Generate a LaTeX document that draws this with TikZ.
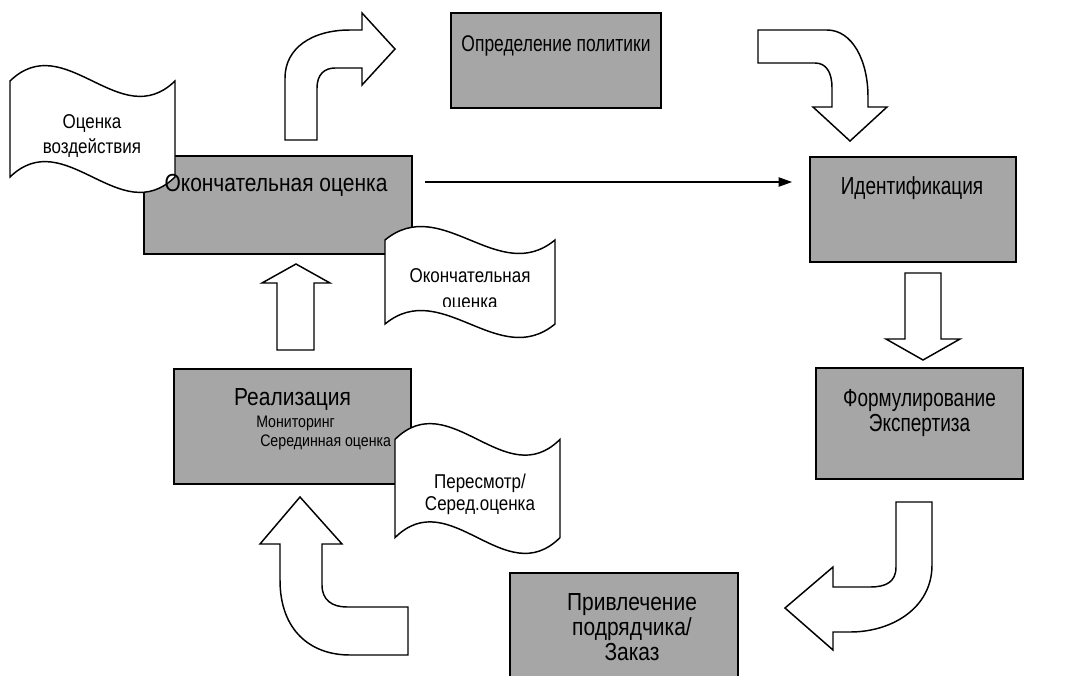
\documentclass[tikz,border=0pt]{standalone}
\usepackage{fontspec}
\setmainfont{Liberation Sans}
\newfontfamily\narrowsans[FakeStretch=0.85]{Liberation Sans}
\newfontfamily\narrowersans[FakeStretch=0.77]{Liberation Sans}
\usetikzlibrary{arrows.meta}
\definecolor{boxgray}{RGB}{166,166,166}
\tikzset{
  procbox/.style={draw=black, line width=1.1pt, fill=boxgray, inner sep=0pt},
  blockarrow/.style={draw=black, line width=1.1pt, fill=white, line join=miter},
  wavedoc/.style={draw=black, line width=1.1pt, fill=white},
  maintext/.style={font=\narrowsans\fontsize{18.5}{22}\selectfont, anchor=base, inner sep=0pt},
  righttext/.style={font=\narrowersans\fontsize{18.5}{22}\selectfont, anchor=base, inner sep=0pt},
  doctext/.style={font=\narrowsans\fontsize{15}{18}\selectfont, anchor=base, inner sep=0pt},
  smalltext/.style={font=\narrowsans\fontsize{12.5}{15}\selectfont, anchor=base west, inner sep=0pt},
  thinarrow/.style={line width=0.8pt, -{Triangle[length=10pt,width=7pt]}}
}
\newcommand\wavedocshape[4]{%
  \pgfmathsetmacro\wxa{#1}\pgfmathsetmacro\wxb{#1+#3/3}%
  \pgfmathsetmacro\wxc{#1+2*#3/3}\pgfmathsetmacro\wxd{#1+#3}%
  \pgfmathsetmacro\wya{#2+0.125*#4}\pgfmathsetmacro\wdy{0.125*#4*10/3}%
  \pgfmathsetmacro\wyb{#2+#4-0.125*#4}%
  \draw[wavedoc] (\wxa,\wya) .. controls (\wxb,\wya-\wdy) and (\wxc,\wya+\wdy) .. (\wxd,\wya)
    -- (\wxd,\wyb) .. controls (\wxc,\wyb+\wdy) and (\wxb,\wyb-\wdy) .. (\wxa,\wyb) -- cycle;
}
\begin{document}
\begin{tikzpicture}[x=0.75pt,y=-0.75pt]
\useasboundingbox (0,0) rectangle (1077,675);
% boxes
\node[procbox, minimum width=201pt, minimum height=73.5pt] (final) at (278,205) {};
\node[procbox, minimum width=157.5pt, minimum height=71.25pt] (policy) at (556,60.5) {};
\node[procbox, minimum width=154.5pt, minimum height=78.75pt] (ident) at (913,209.5) {};
\node[procbox, minimum width=155.25pt, minimum height=83.25pt] (form) at (919.5,423.5) {};
\node[procbox, minimum width=171pt, minimum height=87.75pt] (contr) at (624,631.5) {};
\node[procbox, minimum width=177.75pt, minimum height=86.25pt] (impl) at (292.5,426.5) {};
% block arrows
\draw[blockarrow] (285,140) -- (285,78) .. controls (285,48) and (312,30) .. (350,30) -- (362,30) -- (362,13)
  -- (395,49) -- (362,85) -- (362,68) -- (335,68) .. controls (324,68) and (317,75) .. (317,88) -- (317,140) -- cycle;
\draw[blockarrow] (758,30) -- (827,30) .. controls (852,30) and (868,60) .. (868,97) -- (868,107) -- (887,107)
  -- (850,141) -- (813,107) -- (832,107) -- (832,88) .. controls (832,72) and (826,63) .. (815,63) -- (758,63) -- cycle;
\draw[blockarrow] (896,502) -- (932,502) -- (932,565) .. controls (932,608) and (892,632) .. (850,632) -- (833,632)
  -- (833,650) -- (785,608) -- (833,567) -- (833,587) -- (870,587) .. controls (886,587) and (896,582) .. (896,567) -- cycle;
\draw[blockarrow] (408,655) -- (350,655) .. controls (310,655) and (280,630) .. (280,580) -- (280,544) -- (260,544)
  -- (300,497) -- (342,544) -- (322,544) -- (322,585) .. controls (322,600) and (332,607) .. (347,607) -- (408,607) -- cycle;
\draw[blockarrow] (277,350) -- (277,283) -- (262,283) -- (296,264) -- (330,283) -- (314,283) -- (314,350) -- cycle;
\draw[blockarrow] (905,273) -- (941,273) -- (941,339) -- (960,339) -- (923,360) -- (886,339) -- (905,339) -- cycle;
% thin arrow
\coordinate (ta) at (425,182);
\coordinate (tb) at (792,182);
\draw[thinarrow] (ta) -- (tb);
% wave documents
\wavedocshape{10}{65}{165}{128}
\wavedocshape{385}{226}{170}{112}
\wavedocshape{395}{423}{165}{131}
% texts
\node[maintext] (tfinal) at (276,191.5) {Окончательная оценка};
\node[righttext, font=\narrowersans\fontsize{17}{21}\selectfont] (tpolicy) at (556,51) {Определение политики};
\node[righttext] (tident) at (912,194) {Идентификация};
\node[righttext] (tforma) at (919.5,406) {Формулирование};
\node[righttext] (tformb) at (919.5,431) {Экспертиза};
\node[maintext] (tcontra) at (632,610) {Привлечение};
\node[maintext] (tcontrb) at (632,635) {подрядчика/};
\node[maintext] (tcontrc) at (632,660) {Заказ};
\node[maintext] (timpl) at (292.5,405) {Реализация};
\node[smalltext] (tmon) at (256,427) {Мониторинг};
\node[smalltext] (tmid) at (260,446) {Серединная оценка};
\node[doctext] (dimpa) at (92,128) {Оценка};
\node[doctext] (dimpb) at (92,153) {воздействия};
\node[doctext] (dfina) at (470,282) {Окончательная};
\begin{scope}
\clip (380,290) rectangle (560,306.5);
\node[doctext] (dfinb) at (470,308) {оценка};
\end{scope}
\node[doctext] (dreva) at (480,488) {Пересмотр/};
\node[doctext] (drevb) at (480,510) {Серед.оценка};
\end{tikzpicture}
\end{document}
